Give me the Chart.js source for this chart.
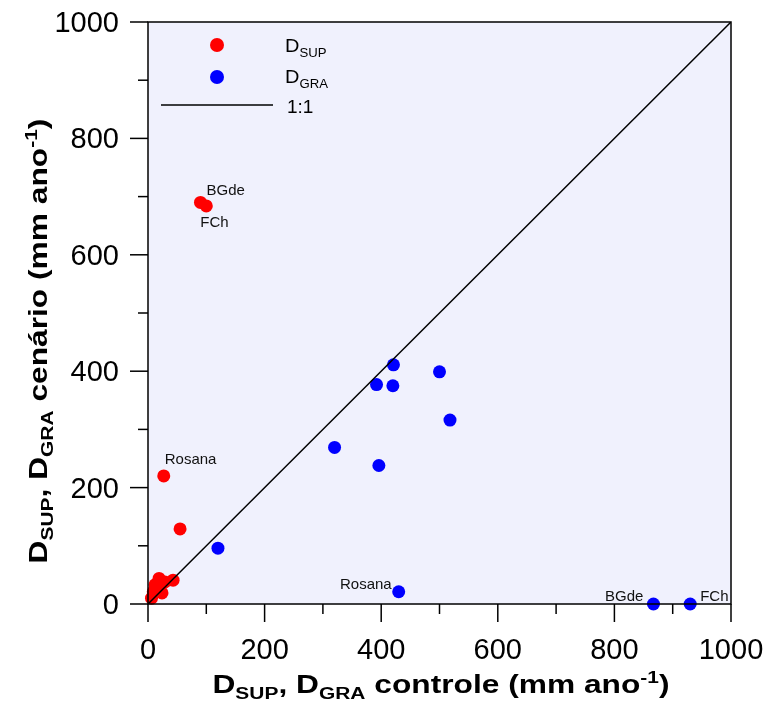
<!DOCTYPE html>
<html>
<head>
<meta charset="utf-8">
<script src="https://cdn.jsdelivr.net/npm/chart.js@4.4.1/dist/chart.umd.min.js"></script>
<style>
  html, body { margin: 0; padding: 0; background: #fff; }
  #wrap { width: 766px; height: 703px; }
</style>
</head>
<body>
<div id="wrap"><canvas id="grafico" width="766" height="703"></canvas></div>
<script>
// valores (mm ano-1)
const supControle = [90, 100, 27, 55, 43, 29, 19, 24, 12, 9, 6];
const supCenario  = [690, 684, 220, 129, 41, 38, 44, 19, 33, 21, 10];
const graControle = [120, 320, 396, 392, 420, 421, 500, 518, 430, 867, 930];
const graCenario  = [96, 269, 238, 377, 375, 411, 399, 316, 21, 0, 0];
const linha11 = [0, 1000];
const tickVals = [0, 100, 200, 300, 400, 500, 600, 700, 800, 900, 1000];
const tickLabels = ['0', '', '200', '', '400', '', '600', '', '800', '', '1000'];

// rotulos dos pontos: serie, indice, texto
const rotulos = [
  { serie: 0, idx: 0, texto: 'BGde' },
  { serie: 0, idx: 1, texto: 'FCh' },
  { serie: 0, idx: 2, texto: 'Rosana' },
  { serie: 1, idx: 8, texto: 'Rosana' },
  { serie: 1, idx: 9, texto: 'BGde' },
  { serie: 1, idx: 10, texto: 'FCh' }
];
// deslocamento de cada rotulo (px)
const desloc = [
  { dx: 6, dy: -7, align: 'left' },
  { dx: -6, dy: 21, align: 'left' },
  { dx: 1, dy: -12, align: 'left' },
  { dx: -7, dy: -3, align: 'right' },
  { dx: -10, dy: -3, align: 'right' },
  { dx: 10, dy: -3, align: 'left' }
];

const FONTE = '"Liberation Sans", Arial, sans-serif';

function pts(xs, ys) {
  return xs.map((x, i) => ({ x: x, y: ys[i] }));
}

// texto com subscrito/sobrescrito, esticado na horizontal por sx
function richText(ctx, x, y, partes, size, bold, align, sx) {
  sx = sx || 1;
  const peso = bold ? 'bold ' : '';
  let total = 0;
  partes.forEach(p => {
    const s = p[1] ? size * 0.66 : size;
    ctx.font = peso + s + 'px ' + FONTE;
    total += ctx.measureText(p[0]).width;
  });
  ctx.save();
  ctx.translate(x, y);
  ctx.scale(sx, 1);
  let cx = align === 'center' ? -total / 2 : (align === 'right' ? -total : 0);
  ctx.textAlign = 'left';
  ctx.textBaseline = 'alphabetic';
  partes.forEach(p => {
    const s = p[1] ? size * 0.66 : size;
    ctx.font = peso + s + 'px ' + FONTE;
    let yy = 0;
    if (p[1] === 'sub') yy = size * 0.24;
    if (p[1] === 'sup') yy = -size * 0.38;
    ctx.fillText(p[0], cx, yy);
    cx += ctx.measureText(p[0]).width;
  });
  ctx.restore();
}

const desenhoExtra = {
  id: 'desenhoExtra',
  beforeDatasetsDraw(chart) {
    const { ctx, chartArea: a } = chart;
    ctx.save();
    ctx.fillStyle = '#f0f1fd';
    ctx.fillRect(a.left, a.top, a.right - a.left, a.bottom - a.top);
    ctx.restore();
  },
  afterDraw(chart) {
    const { ctx, chartArea: a, scales } = chart;
    const sx = scales.x, sy = scales.y;
    ctx.save();
    // moldura
    ctx.strokeStyle = '#000';
    ctx.lineWidth = 1.5;
    ctx.strokeRect(a.left, a.top, a.right - a.left, a.bottom - a.top);
    // marcas dos eixos
    tickVals.forEach((v, i) => {
      const len = tickLabels[i] ? 18 : 10;
      const px = sx.getPixelForValue(v);
      ctx.beginPath(); ctx.moveTo(px, a.bottom); ctx.lineTo(px, a.bottom + len); ctx.stroke();
      const py = sy.getPixelForValue(v);
      ctx.beginPath(); ctx.moveTo(a.left, py); ctx.lineTo(a.left - len, py); ctx.stroke();
    });
    // rotulos das marcas
    ctx.fillStyle = '#000';
    ctx.font = '29px ' + FONTE;
    tickVals.forEach((v, i) => {
      if (!tickLabels[i]) return;
      ctx.textAlign = 'center'; ctx.textBaseline = 'alphabetic';
      ctx.fillText(tickLabels[i], sx.getPixelForValue(v), a.bottom + 55);
      ctx.textAlign = 'right';
      ctx.fillText(tickLabels[i], a.left - 29, sy.getPixelForValue(v) + 10);
    });
    // titulos dos eixos
    richText(ctx, 441, 693,
      [['D'], ['SUP', 'sub'], [', D'], ['GRA', 'sub'], [' controle (mm ano'], ['-1', 'sup'], [')']], 26, true, 'center', 1.22);
    ctx.save();
    ctx.translate(47, 341);
    ctx.rotate(-Math.PI / 2);
    richText(ctx, 0, 0,
      [['D'], ['SUP', 'sub'], [', D'], ['GRA', 'sub'], [' cenário (mm ano'], ['-1', 'sup'], [')']], 26, true, 'center', 1.22);
    ctx.restore();
    // rotulos dos pontos
    ctx.font = '15px ' + FONTE;
    ctx.fillStyle = '#111';
    rotulos.forEach((r, i) => {
      const el = chart.getDatasetMeta(r.serie + 1).data[r.idx];
      const d = desloc[i];
      ctx.textAlign = d.align; ctx.textBaseline = 'alphabetic';
      ctx.fillText(r.texto, el.x + d.dx, el.y + d.dy);
    });
    // legenda
    const lx = a.left, ly = a.top;
    ctx.fillStyle = '#ff0000';
    ctx.beginPath(); ctx.arc(lx + 69, ly + 23, 7, 0, Math.PI * 2); ctx.fill();
    ctx.fillStyle = '#0000ff';
    ctx.beginPath(); ctx.arc(lx + 69, ly + 55, 7, 0, Math.PI * 2); ctx.fill();
    ctx.strokeStyle = '#000';
    ctx.lineWidth = 1.5;
    ctx.beginPath(); ctx.moveTo(lx + 13, ly + 83); ctx.lineTo(lx + 125, ly + 83); ctx.stroke();
    ctx.fillStyle = '#000';
    richText(ctx, lx + 137, ly + 30, [['D'], ['SUP', 'sub']], 19, false, 'left', 1.05);
    richText(ctx, lx + 137, ly + 61, [['D'], ['GRA', 'sub']], 19, false, 'left', 1.05);
    ctx.font = '19px ' + FONTE;
    ctx.textAlign = 'left';
    ctx.fillText('1:1', lx + 139, ly + 91);
    ctx.restore();
  }
};

const ctx = document.getElementById('grafico').getContext('2d');
new Chart(ctx, {
  type: 'scatter',
  data: {
    datasets: [
      {
        type: 'line',
        label: '1:1',
        data: pts(linha11, linha11),
        borderColor: '#000',
        borderWidth: 1.5,
        pointRadius: 0,
        order: 0
      },
      {
        label: 'DSUP',
        data: pts(supControle, supCenario),
        backgroundColor: '#ff0000',
        borderWidth: 0,
        pointRadius: 6.5,
        clip: false,
        order: 1
      },
      {
        label: 'DGRA',
        data: pts(graControle, graCenario),
        backgroundColor: '#0000ff',
        borderWidth: 0,
        pointRadius: 6.5,
        clip: false,
        order: 1
      }
    ]
  },
  options: {
    responsive: false,
    animation: false,
    events: [],
    layout: { padding: { left: 0, top: 22, right: 35, bottom: 0 } },
    plugins: { legend: { display: false }, tooltip: { enabled: false } },
    scales: {
      x: {
        type: 'linear', min: 0, max: 1000,
        ticks: { display: false, stepSize: 100 },
        grid: { display: false },
        border: { display: false },
        afterFit: s => { s.height = 99; }
      },
      y: {
        type: 'linear', min: 0, max: 1000,
        ticks: { display: false, stepSize: 100 },
        grid: { display: false },
        border: { display: false },
        afterFit: s => { s.width = 148; }
      }
    }
  },
  plugins: [desenhoExtra]
});
</script>
</body>
</html>
